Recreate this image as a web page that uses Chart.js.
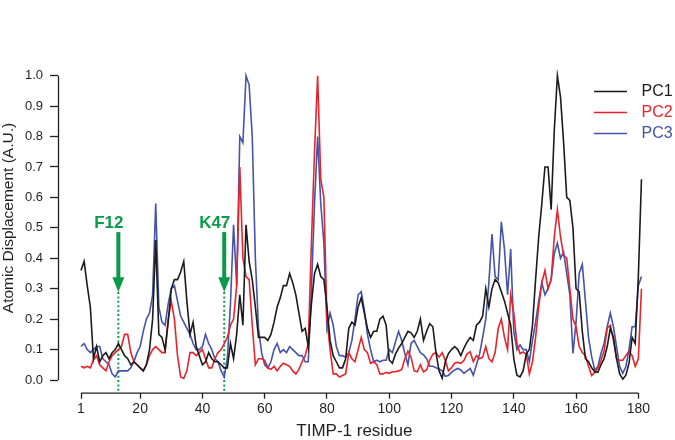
<!DOCTYPE html>
<html>
<head>
<meta charset="utf-8">
<script src="https://cdn.jsdelivr.net/npm/chart.js@4.4.1/dist/chart.umd.min.js"></script>
<style>
  html, body { margin: 0; padding: 0; background: #fff; }
  #wrap { width: 675px; height: 440px; }
</style>
</head>
<body>
<div id="wrap"><canvas id="chart" width="675" height="440"></canvas></div>
<script>
// residue numbers 1..181
const residues = Array.from({ length: 181 }, (_, i) => i + 1);

const pc1 = [
  0.36, 0.39, 0.31, 0.24, 0.07, 0.11, 0.06, 0.08, 0.09, 0.07,
  0.09, 0.10, 0.12, 0.10, 0.08, 0.07, 0.05, 0.06, 0.05, 0.04,
  0.03, 0.05, 0.10, 0.20, 0.46, 0.15, 0.14, 0.10, 0.19, 0.30,
  0.33, 0.33, 0.355, 0.39, 0.26, 0.15, 0.19, 0.11, 0.08, 0.05,
  0.06, 0.09, 0.07, 0.06, 0.06, 0.05, 0.04, 0.04, 0.12, 0.07,
  0.15, 0.28, 0.18, 0.51, 0.39, 0.33, 0.24, 0.14, 0.14, 0.14,
  0.13, 0.15, 0.19, 0.24, 0.27, 0.31, 0.31, 0.35, 0.32, 0.28,
  0.22, 0.16, 0.17, 0.11, 0.25, 0.35, 0.38, 0.34, 0.33, 0.24,
  0.13, 0.08, 0.06, 0.04, 0.04, 0.07, 0.17, 0.19, 0.18, 0.24,
  0.27, 0.22, 0.17, 0.14, 0.16, 0.16, 0.20, 0.21, 0.18,
  0.066, 0.055, 0.085, 0.105, 0.12, 0.14, 0.16, 0.155, 0.14, 0.16, 0.20,
  0.13, 0.16, 0.185, 0.175, 0.09, 0.03, 0.006, 0.06, 0.087, 0.10, 0.11, 0.10, 0.08, 0.105, 0.125,
  0.14, 0.13, 0.18, 0.19, 0.21, 0.30, 0.24, 0.30, 0.33, 0.32, 0.29, 0.26, 0.22, 0.18, 0.07,
  0.016, 0.01, 0.03, 0.085, 0.10, 0.18, 0.33, 0.47, 0.58, 0.70,
  0.70, 0.56, 0.82, 1.0, 0.93, 0.78, 0.60, 0.59, 0.50, 0.30,
  0.29, 0.16, 0.07, 0.06, 0.04, 0.027, 0.025, 0.05, 0.07,
  0.11, 0.17, 0.14, 0.07, 0.02, 0.003, 0.016, 0.055, 0.14, 0.12, 0.34, 0.66
];

const pc2 = [
  0.045, 0.04, 0.045, 0.04, 0.066, 0.08, 0.05, 0.04, 0.03, 0.06,
  0.08, 0.09, 0.10, 0.11, 0.15, 0.15, 0.09, 0.06, 0.05, 0.04,
  0.03, 0.05, 0.08, 0.10, 0.11, 0.10, 0.09, 0.09, 0.20, 0.26,
  0.20, 0.08, 0.01, 0.005, 0.03, 0.09, 0.09, 0.08, 0.09, 0.10,
  0.07, 0.04, 0.04, 0.07, 0.09, 0.10, 0.12, 0.14, 0.18, 0.20,
  0.31, 0.70, 0.40, 0.34, 0.33, 0.18, 0.05, 0.07, 0.07, 0.065,
  0.04, 0.035, 0.045, 0.03, 0.045, 0.055, 0.05, 0.045, 0.03, 0.02,
  0.035, 0.06, 0.08, 0.12, 0.45, 0.75, 1.0, 0.66, 0.60, 0.20,
  0.10, 0.02, 0.02, 0.01, 0.015, 0.02, 0.09, 0.07, 0.06, 0.10,
  0.14, 0.10, 0.09, 0.055, 0.06, 0.05, 0.02, 0.02, 0.025,
  0.022, 0.027, 0.027, 0.03, 0.035, 0.07, 0.095, 0.075, 0.03, 0.027, 0.05,
  0.027, 0.033, 0.065, 0.085, 0.09, 0.075, 0.09, 0.065, 0.03, 0.04, 0.055, 0.058, 0.055, 0.065, 0.086,
  0.093, 0.06, 0.08, 0.07, 0.075, 0.11, 0.07, 0.06, 0.09, 0.17, 0.20, 0.14, 0.10, 0.28, 0.22,
  0.12, 0.087, 0.092, 0.085, 0.02, 0.06, 0.14, 0.24, 0.32, 0.36,
  0.30, 0.33, 0.47, 0.56, 0.47, 0.41, 0.40, 0.30, 0.20, 0.175,
  0.11, 0.09, 0.08, 0.045, 0.015, 0.025, 0.04, 0.065, 0.095, 0.17,
  0.18, 0.13, 0.07, 0.065, 0.065, 0.08, 0.095, 0.08, 0.045, 0.07, 0.30
];

const pc3 = [
  0.11, 0.12, 0.10, 0.09, 0.10, 0.11, 0.11, 0.07, 0.06, 0.05,
  0.02, 0.01, 0.03, 0.03, 0.03, 0.03, 0.04, 0.06, 0.09, 0.11,
  0.16, 0.20, 0.22, 0.28, 0.58, 0.24, 0.19, 0.18, 0.25, 0.30,
  0.31, 0.26, 0.21, 0.19, 0.17, 0.15, 0.12, 0.10, 0.10, 0.11,
  0.15, 0.12, 0.10, 0.07, 0.06, 0.03, 0.01, 0.07, 0.25, 0.51,
  0.31, 0.80, 0.78, 1.0, 0.97, 0.80, 0.40, 0.17, 0.09, 0.05,
  0.04, 0.06, 0.10, 0.12, 0.09, 0.10, 0.09, 0.11, 0.10, 0.09,
  0.08, 0.08, 0.06, 0.06, 0.30, 0.58, 0.80, 0.58, 0.45, 0.17,
  0.22, 0.18, 0.11, 0.08, 0.08, 0.075, 0.09, 0.13, 0.20, 0.28,
  0.29, 0.23, 0.15, 0.10, 0.06, 0.065, 0.06, 0.065, 0.065,
  0.10, 0.09, 0.125, 0.16, 0.13, 0.087, 0.05, 0.12, 0.13, 0.11, 0.09,
  0.083, 0.07, 0.045, 0.045, 0.04, 0.036, 0.03, 0.012, 0.015, 0.025, 0.033, 0.038, 0.033, 0.022, 0.03,
  0.038, 0.016, 0.05, 0.085, 0.14, 0.20, 0.32, 0.48, 0.34, 0.33, 0.52, 0.43, 0.28, 0.43, 0.16,
  0.10, 0.115, 0.10, 0.10, 0.06, 0.13, 0.19, 0.26, 0.32, 0.28,
  0.30, 0.33, 0.415, 0.45, 0.40, 0.42, 0.35, 0.28, 0.087, 0.19,
  0.35, 0.38, 0.26, 0.14, 0.077, 0.033, 0.044, 0.087, 0.12, 0.175,
  0.22, 0.175, 0.11, 0.044, 0.022, 0.044, 0.10, 0.175, 0.175, 0.31, 0.34
];

const seriesNames = ["PC1", "PC2", "PC3"];
const seriesColors = ["#1c1a1b", "#e8232b", "#4553a8"];
const xTicks = [1, 20, 40, 60, 80, 100, 120, 140, 160, 180];
const yTicks = [0, 0.1, 0.2, 0.3, 0.4, 0.5, 0.6, 0.7, 0.8, 0.9, 1.0];
const markerResidues = [13, 47];
const markerLabels = ["F12", "K47"];

const FONT = "'Liberation Sans', Arial, Helvetica, sans-serif";
const INK = "#231f20";
const GREEN = "#0b9a4a";

const toPoints = (vals) => vals.map((v, i) => ({ x: residues[i], y: v }));

// axis lines only span the labelled range (detached axes)
const axisLines = {
  id: "axisLines",
  afterDraw(chart) {
    const { ctx, chartArea, scales: { x, y } } = chart;
    ctx.save();
    ctx.strokeStyle = INK;
    ctx.lineWidth = 1.3;
    ctx.beginPath();
    ctx.moveTo(chartArea.left + 0.5, y.getPixelForValue(yTicks[0]));
    ctx.lineTo(chartArea.left + 0.5, y.getPixelForValue(yTicks[yTicks.length - 1]));
    ctx.moveTo(x.getPixelForValue(xTicks[0]), chartArea.bottom + 0.5);
    ctx.lineTo(x.getPixelForValue(xTicks[xTicks.length - 1]), chartArea.bottom + 0.5);
    ctx.stroke();

    // y title
    ctx.translate(9, 218);
    ctx.rotate(-Math.PI / 2);
    ctx.font = "15.5px " + FONT;
    ctx.fillStyle = INK;
    ctx.textAlign = "center";
    ctx.textBaseline = "middle";
    ctx.fillText("Atomic Displacement (A.U.)", 0, 0);
    ctx.restore();
  },
};

// legend at top right, text coloured like the lines
const sideLegend = {
  id: "sideLegend",
  afterDraw(chart) {
    const { ctx } = chart;
    ctx.save();
    ctx.font = "16px " + FONT;
    ctx.textBaseline = "middle";
    ctx.textAlign = "left";
    chart.data.datasets.forEach((ds, i) => {
      const yy = 91.5 + i * 21;
      ctx.strokeStyle = ds.borderColor;
      ctx.lineWidth = 1.5;
      ctx.beginPath();
      ctx.moveTo(594, yy);
      ctx.lineTo(627, yy);
      ctx.stroke();
      ctx.fillStyle = ds.borderColor;
      ctx.fillText(ds.label, 641.5, yy);
    });
    ctx.restore();
  },
};

// green arrows + dotted guides for F12 / K47
const markers = {
  id: "markers",
  beforeDatasetsDraw(chart) {
    const { ctx, chartArea, scales: { x, y } } = chart;
    ctx.save();
    markerResidues.forEach((r, i) => {
      const px = x.getPixelForValue(r);
      const tip = y.getPixelForValue(0.289);
      ctx.strokeStyle = GREEN;
      ctx.lineWidth = 2;
      ctx.setLineDash([2, 2.4]);
      ctx.beginPath();
      ctx.moveTo(px, tip);
      ctx.lineTo(px, chartArea.bottom);
      ctx.stroke();
      ctx.setLineDash([]);

      ctx.fillStyle = GREEN;
      const top = y.getPixelForValue(0.486);
      const head = y.getPixelForValue(0.338);
      ctx.fillRect(px - 2, top, 4, head - top + 1);
      ctx.beginPath();
      ctx.moveTo(px - 6, head);
      ctx.lineTo(px + 6, head);
      ctx.lineTo(px, tip);
      ctx.closePath();
      ctx.fill();

      ctx.font = "bold 17px " + FONT;
      ctx.textAlign = "center";
      ctx.textBaseline = "middle";
      ctx.fillText(markerLabels[i], px - 9.5, y.getPixelForValue(0.514));
    });
    ctx.restore();
  },
};

const allSeries = [pc1, pc2, pc3];

new Chart(document.getElementById("chart").getContext("2d"), {
  type: "line",
  data: {
    datasets: allSeries.map((vals, i) => ({
      label: seriesNames[i],
      data: toPoints(vals),
      borderColor: seriesColors[i],
      backgroundColor: seriesColors[i],
      borderWidth: 1.6,
      pointRadius: 0,
      tension: 0,
      fill: false,
    })),
  },
  options: {
    responsive: false,
    animation: false,
    events: [],
    layout: { padding: { top: 69.6, right: 24.2, bottom: 0, left: 0 } },
    plugins: {
      legend: { display: false },
      tooltip: { enabled: false },
    },
    scales: {
      x: {
        type: "linear",
        min: -6.387,
        max: 184,
        afterBuildTicks: (scale) => {
          scale.ticks = xTicks.map((v) => ({ value: v }));
        },
        afterFit: (scale) => {
          scale.height = 47.3;
        },
        grid: {
          drawOnChartArea: false,
          drawTicks: true,
          tickLength: 6,
          tickColor: INK,
          tickWidth: 1.3,
        },
        border: { display: false },
        ticks: {
          color: INK,
          font: { family: FONT, size: 14 },
          padding: 2,
          maxRotation: 0,
          autoSkip: false,
        },
        title: {
          display: true,
          text: "TIMP-1 residue",
          color: INK,
          font: { family: FONT, size: 17, lineHeight: 1 },
          padding: { top: 0, bottom: 0 },
        },
      },
      y: {
        type: "linear",
        min: -0.0417,
        max: 1.02,
        afterBuildTicks: (scale) => {
          scale.ticks = yTicks.map((v) => ({ value: v }));
        },
        afterFit: (scale) => {
          scale.width = 58;
        },
        grid: {
          drawOnChartArea: false,
          drawTicks: true,
          tickLength: 8,
          tickColor: INK,
          tickWidth: 1.3,
        },
        border: { display: false },
        ticks: {
          color: INK,
          font: { family: FONT, size: 13 },
          padding: 7,
          callback: (v) => Number(v).toFixed(1),
        },
      },
    },
  },
  plugins: [axisLines, sideLegend, markers],
});
</script>
</body>
</html>
